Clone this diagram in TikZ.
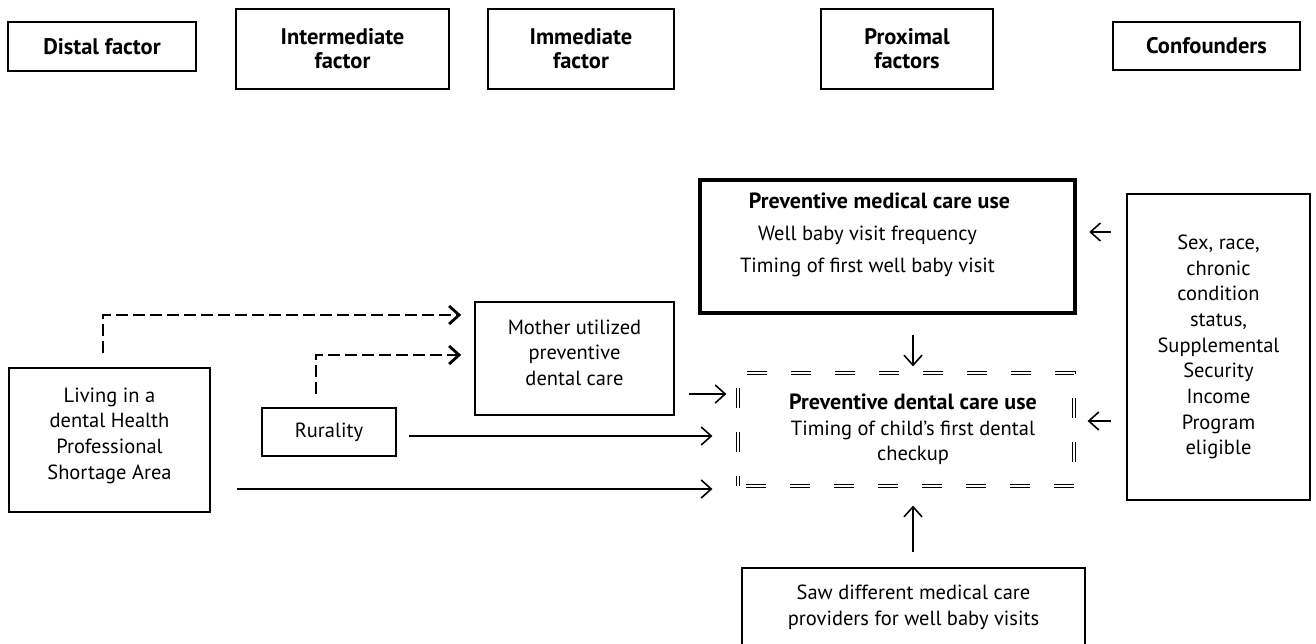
\documentclass[tikz,border=0pt]{standalone}
\usepackage{fontspec}
\setmainfont{PT Sans}
\usetikzlibrary{arrows.meta}
\newcommand{\bt}[1]{{\fontsize{22}{26}\selectfont\bfseries #1}}
\newcommand{\lpad}[1]{\hspace*{#1}\mbox{}}
\begin{document}
\begin{tikzpicture}[x=1pt,y=-1pt,
  box/.style={draw, line width=1.6pt, inner sep=0pt, align=center, font=\fontsize{20.5}{25.7}\selectfont},
  hbox/.style={box, font=\fontsize{22.5}{24}\selectfont\bfseries},
  medbox/.style={box, line width=4.5pt, font=\fontsize{20.5}{32}\selectfont},
  dentbox/.style={box, line width=1.2pt, double, double distance=2.2pt, dash pattern=on 20pt off 24pt, dash phase=-8pt, font=\fontsize{20.5}{25.5}\selectfont},
  arr/.style={line width=1.6pt, -{Straight Barb[length=10pt,width=18pt,line width=1.6pt]}},
  darr/.style={line width=2.8pt, dash pattern=on 12pt off 5pt, -{Straight Barb[length=10pt,width=18pt,line width=2.8pt]}}]
\useasboundingbox (0,0) rectangle (1316,644);
\clip (0,0) rectangle (1316,644);
% header
\node[hbox, minimum width=188pt, minimum height=49pt] (distal) at (102,46.5) {Distal factor};
\node[hbox, minimum width=213pt, minimum height=80pt] (inter) at (342.5,49) {Intermediate\\factor};
\node[hbox, minimum width=186pt, minimum height=80pt] (immed) at (581,49) {Immediate\\factor};
\node[hbox, minimum width=172pt, minimum height=80pt] (prox) at (907,49) {Proximal\\factors};
\node[hbox, minimum width=187pt, minimum height=48pt] (conf) at (1206.5,46) {Confounders};
% body
\node[medbox, minimum width=375pt, minimum height=133pt] (medical) at (887.5,246.5)
  {\bt{Preventive medical care use}\lpad{16pt}\\Well baby visit frequency\lpad{40pt}\\Timing of first well baby visit\lpad{40pt}\rule[-28pt]{0pt}{0pt}};
\node[box, minimum width=199pt, minimum height=113pt] (mother) at (574.5,358.5)
  {Mother utilized\\preventive\\dental care\rule[-12pt]{0pt}{0pt}};
\node[box, minimum width=201pt, minimum height=144pt] (living) at (109.5,440)
  {Living in a\\dental Health\\Professional\\Shortage Area\rule[-13pt]{0pt}{0pt}};
\node[box, minimum width=134pt, minimum height=48pt] (rural) at (329,432) {Rurality};
\node[dentbox, minimum width=336pt, minimum height=113pt] (dental) at (906,429.5)
  {\hspace*{14pt}\bt{Preventive dental care use}\\\hspace*{14pt}Timing of child’s first dental\\\hspace*{14pt}checkup\rule[-3pt]{0pt}{0pt}};
\node[box, minimum width=183pt, minimum height=306pt] (confs) at (1218.5,347)
  {Sex, race,\\chronic\\condition\\status,\\Supplemental\\Security\\Income\\Program\\eligible};
\node[box, minimum width=343pt, minimum height=78pt] (saw) at (913.5,607)
  {Saw different medical care\\providers for well baby visits};
% connectors
\draw[darr] ([yshift=14pt]living.north -| 103,0) |- ([xshift=-13pt]mother.west |- 0,315);
\draw[darr] ([yshift=13pt]rural.north -| 316,0) |- ([xshift=-13pt]mother.west |- 0,355);
\draw[arr] ([xshift=14pt]mother.east |- 0,394) -- ([xshift=-11pt]dental.west |- 0,394);
\draw[arr] ([xshift=12pt]rural.east |- 0,436) -- ([xshift=-25pt]dental.west |- 0,436);
\draw[arr] ([xshift=26pt]living.east |- 0,489) -- ([xshift=-25pt]dental.west |- 0,489);
\draw[arr] ([yshift=-20pt]medical.south -| 913,0) -- ([yshift=6pt]dental.north -| 913,0);
\draw[arr] ([yshift=15pt]saw.north -| 913,0) -- ([yshift=-19pt]dental.south -| 913,0);
\draw[arr] ([xshift=-15pt]confs.west |- 0,232) -- ([xshift=12pt]medical.east |- 0,232);
\draw[arr] ([xshift=-15pt]confs.west |- 0,421) -- ([xshift=13pt]dental.east |- 0,421);
\end{tikzpicture}
\end{document}
